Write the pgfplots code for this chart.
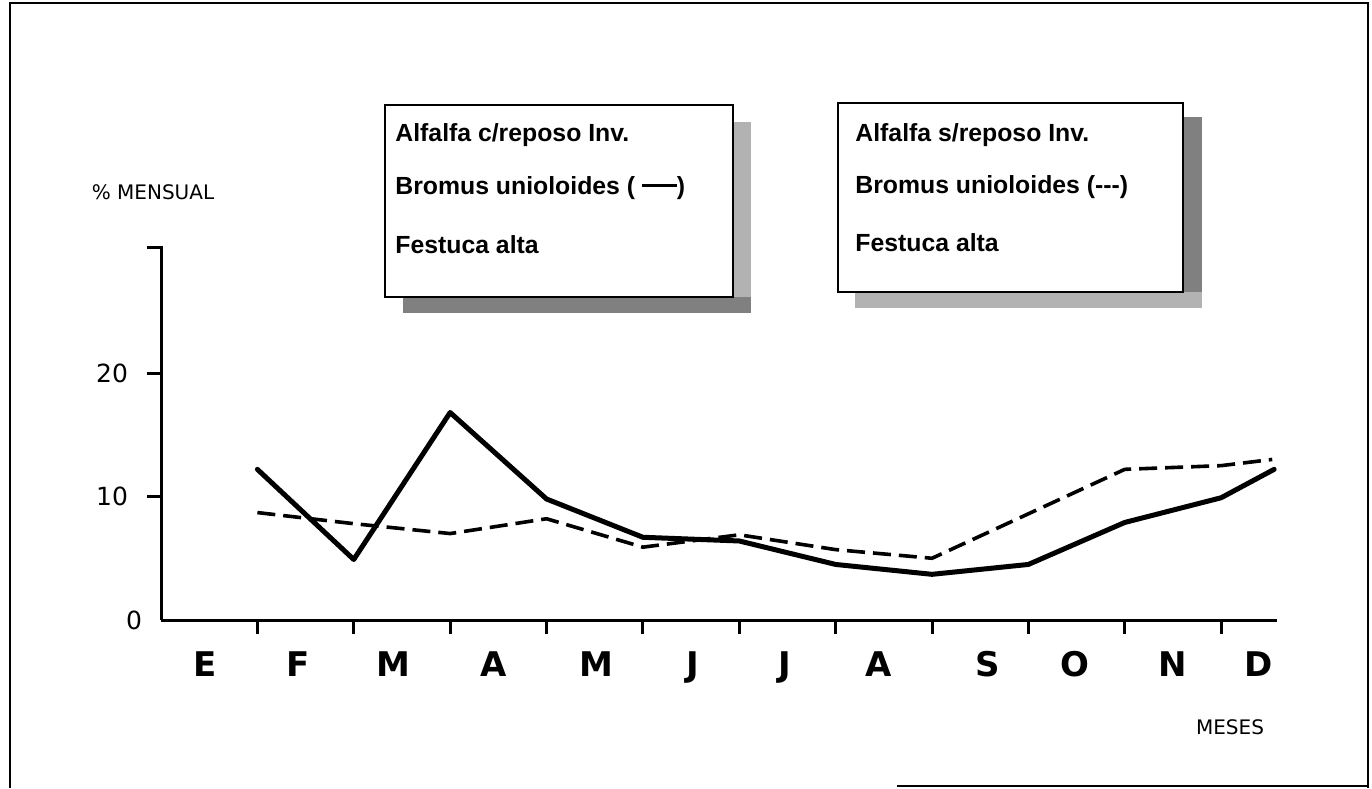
\documentclass[border=0pt]{standalone}
\usepackage{pgfplots}
\pgfplotsset{compat=1.18}
\usepackage{fontspec}
\setmainfont{Liberation Sans}
\newfontfamily\hand{DejaVu Sans}

\begin{document}
\begin{tikzpicture}
% frame and text boxes, in pixel units of the scan
\begin{scope}[x=0.5bp,y=-0.5bp]
\useasboundingbox (0,0) rectangle (1372,788);
\draw[line width=1bp] (10,788) -- (10,3) -- (1368,3) -- (1368,788);
\draw[line width=1bp] (897,786) -- (1368,786);
% box 1
\fill[black!30] (733,122) rectangle (751,313);
\fill[black!50] (403,297) rectangle (751,313);
\draw[line width=1bp, fill=white] (385,105) rectangle (733,297);
\begin{scope}[every node/.style={anchor=west, inner sep=0pt, font=\fontsize{12.4bp}{14bp}\selectfont\bfseries}]
\node at (395,135) {Alfalfa c/reposo Inv.};
\node at (395,188) {Bromus unioloides ( \rule[0.3em]{1.4em}{0.11em})};
\node at (395,245) {Festuca alta};
\end{scope}
% box 2
\fill[black!50] (1183,117) rectangle (1202,308);
\fill[black!30] (855,292) rectangle (1202,308);
\draw[line width=1bp, fill=white] (838,103) rectangle (1183,292);
\begin{scope}[every node/.style={anchor=west, inner sep=0pt, font=\fontsize{12.4bp}{14bp}\selectfont\bfseries}]
\node at (855,135) {Alfalfa s/reposo Inv.};
\node at (855,187) {Bromus unioloides (-{}-{}-)};
\node at (855,243) {Festuca alta};
\end{scope}
\node[inner sep=0pt, font=\hand\fontsize{10bp}{12bp}\selectfont] at (153,192) {\% MENSUAL};
\node[inner sep=0pt, font=\hand\fontsize{10bp}{12bp}\selectfont] at (1230,727) {MESES};
\draw[line width=1.5bp] (147,247) -- (163,247);
\end{scope}

\begin{axis}[
  at={(80.5bp,-310bp)}, anchor=south west,
  scale only axis, width=558bp, height=186.5bp,
  xmin=0, xmax=11.58, ymin=0, ymax=30.2,
  axis lines*=left,
  axis line style={line width=1.5bp},
  tick align=outside,
  major tick length=7bp,
  every tick/.style={black, line width=1.5bp},
  xtick={1,2,3,4,5,6,7,8,9,10,11},
  xticklabels={},
  extra x ticks={0.46,1.42,2.41,3.45,4.52,5.52,6.47,7.45,8.58,9.48,10.5,11.39},
  extra x tick labels={E,F,M,A,M,J,J,A,S,O,N,D},
  extra x tick style={major tick length=0bp,
    xticklabel style={anchor=base, yshift=-28bp,
      font=\hand\fontsize{17bp}{17bp}\selectfont\bfseries}},
  ytick={10,20},
  yticklabels={10,20},
  extra y ticks={0},
  extra y tick labels={0},
  extra y tick style={major tick length=0bp},
  yticklabel style={anchor=east, xshift=-6bp,
    font=\hand\fontsize{12.5bp}{12.5bp}\selectfont},
  clip=false,
]
% Alfalfa c/reposo (solid)
\addplot[black, line width=2.5bp, line join=round, line cap=round] coordinates {
  (1,12.2) (2,4.9) (3,16.8) (4,9.8) (5,6.7) (6,6.4) (7,4.5) (8,3.7)
  (9,4.5) (10,7.9) (11,9.9) (11.55,12.2)
};
% Alfalfa s/reposo (dashed)
\addplot[black, line width=1.8bp, dash pattern=on 9bp off 4bp, line join=round] coordinates {
  (1,8.7) (2,7.8) (3,7.0) (4,8.2) (5,5.9) (6,6.9) (7,5.7) (8,5.0)
  (9,8.6) (10,12.2) (11,12.5) (11.53,13.0)
};
\end{axis}
\end{tikzpicture}
\end{document}
